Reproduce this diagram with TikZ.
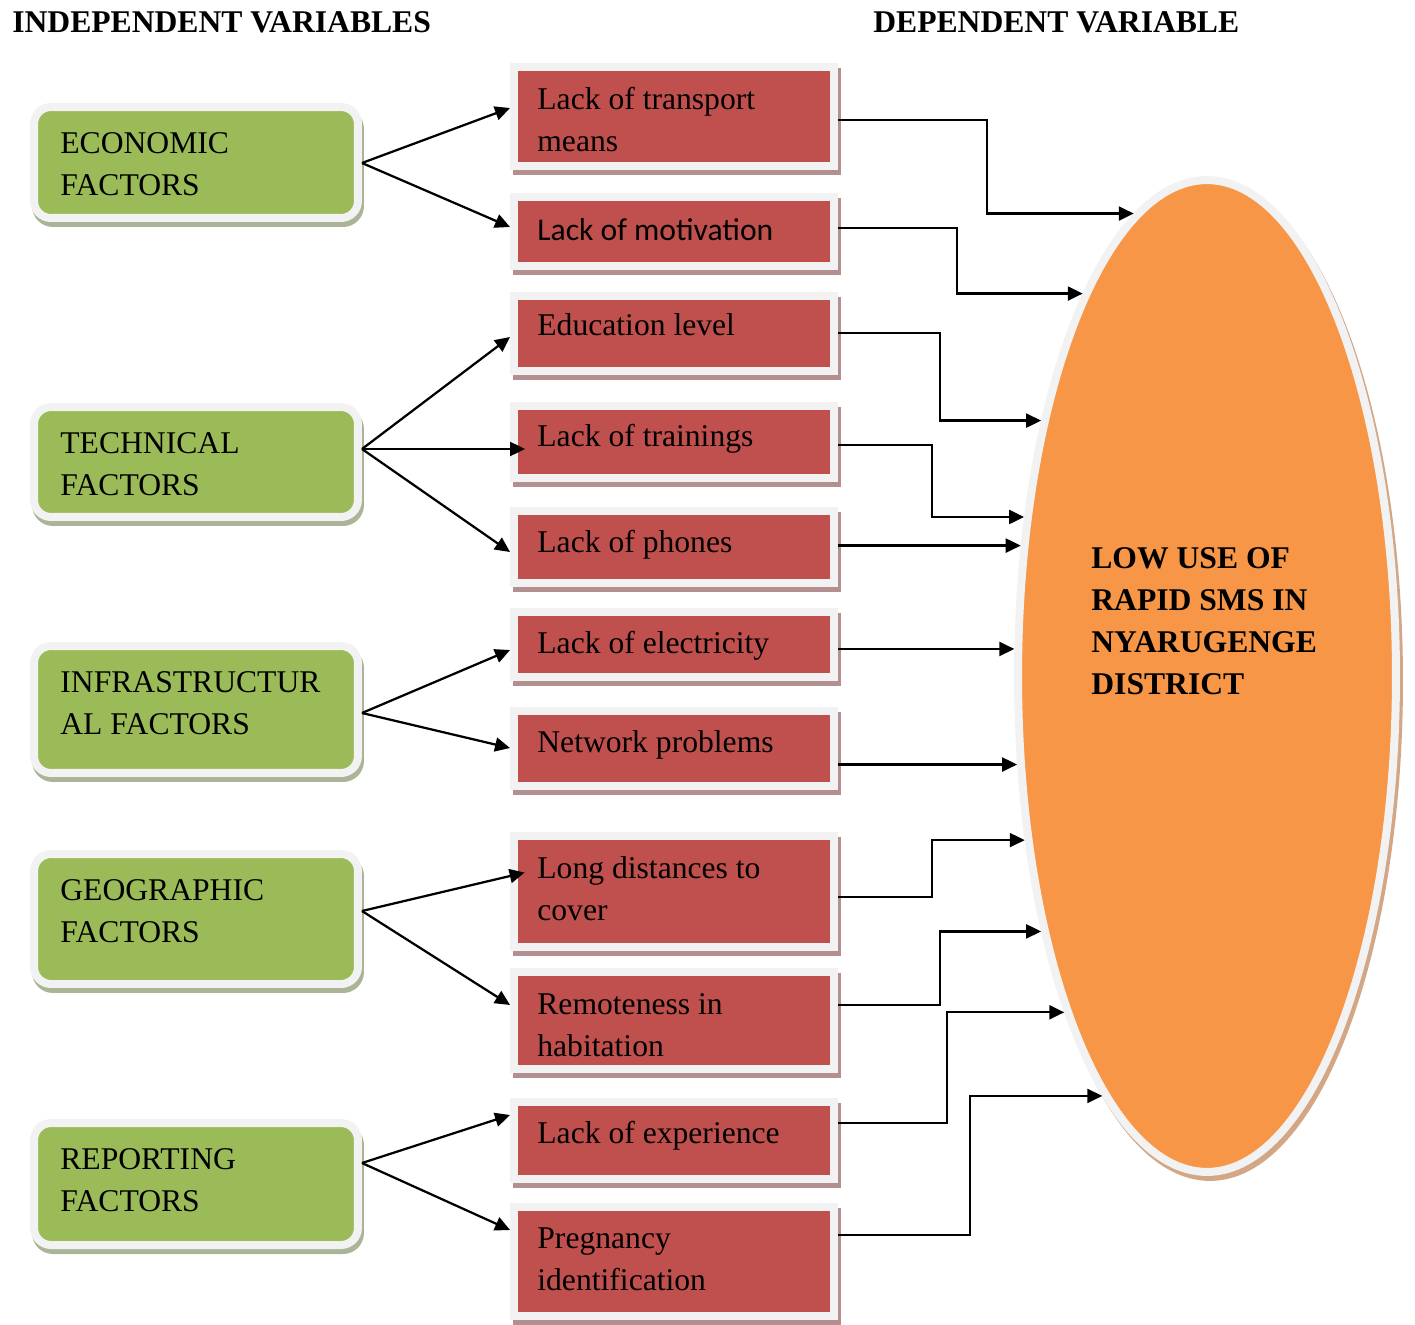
\documentclass[tikz,border=0pt]{standalone}
\usepackage{fontspec}
\setmainfont{Liberation Serif}
\newfontfamily\calibrifont{Carlito}
\usetikzlibrary{shapes.geometric,shadows,arrows.meta}
\definecolor{factgreen}{HTML}{9BBB59}
\definecolor{greenshade}{HTML}{A9B596}
\definecolor{causered}{HTML}{C0504D}
\definecolor{redshade}{HTML}{B48F8F}
\definecolor{goalorange}{HTML}{F79646}
\definecolor{goalshade}{HTML}{D3A786}
\definecolor{rim}{HTML}{F2F2F2}

\begin{document}
\begin{tikzpicture}[x=0.02cm,y=-0.02cm,
	every node/.style={font=\fontsize{18}{23.8}\selectfont},
	factor/.style={draw=rim,line width=0.16cm,fill=factgreen,rounded corners=0.34cm,
		minimum width=6.48cm,inner sep=0,
		drop shadow={shadow xshift=0.04cm,shadow yshift=-0.1cm,fill=greenshade,draw=greenshade,line width=0.16cm,opacity=1}},
	cause/.style={draw=rim,line width=0.16cm,fill=causered,minimum width=6.4cm,inner sep=0,
		drop shadow={shadow xshift=0.06cm,shadow yshift=-0.1cm,fill=redshade,draw=redshade,line width=0.16cm,opacity=1}},
	boxtext/.style={anchor=base west,align=left,inner sep=0},
	boldtext/.style={boxtext,font=\fontsize{18}{23.8}\selectfont\bfseries},
	link/.style={line width=0.045cm,-{Triangle[length=0.3cm,width=0.28cm]}}]
		\useasboundingbox (0,0) rectangle (1415,1324);
		% headings
		\node[boldtext] (indep) at (12,33) {INDEPENDENT VARIABLES};
		\node[boldtext] (dep) at (873,33) {DEPENDENT VARIABLE};
		% independent variables
		\node[factor,minimum height=2.22cm] (eco) at (196,162.5) {};
		\node[factor,minimum height=2.2cm] (tech) at (196,462) {};
		\node[factor,minimum height=2.54cm] (infra) at (196,709.5) {};
		\node[factor,minimum height=2.6cm] (geo) at (196,919) {};
		\node[factor,minimum height=2.44cm] (rep) at (196,1184) {};
		% (base of a two-line text is its last line)
		\node[boxtext] (ecotext) at ([shift={(30,92)}]eco.north west) {ECONOMIC\\FACTORS};
		\node[boxtext] (techtext) at ([shift={(30,92)}]tech.north west) {TECHNICAL\\FACTORS};
		\node[boxtext] (infratext) at ([shift={(30,92)}]infra.north west) {INFRASTRUCTUR\\AL FACTORS};
		\node[boxtext] (geotext) at ([shift={(30,92)}]geo.north west) {GEOGRAPHIC\\FACTORS};
		\node[boxtext] (reptext) at ([shift={(30,92)}]rep.north west) {REPORTING\\FACTORS};
		% causes
		\node[cause,minimum height=1.98cm] (trans) at (674,116.5) {};
		\node[cause,minimum height=1.38cm] (motiv) at (674,231.5) {};
		\node[cause,minimum height=1.5cm] (edu) at (674,333.5) {};
		\node[cause,minimum height=1.44cm] (train) at (674,442) {};
		\node[cause,minimum height=1.44cm] (phone) at (674,547) {};
		\node[cause,minimum height=1.3cm] (elec) at (674,644.5) {};
		\node[cause,minimum height=1.5cm] (net) at (674,748.5) {};
		\node[cause,minimum height=2.22cm] (dist) at (674,891.5) {};
		\node[cause,minimum height=1.94cm] (remote) at (674,1020.5) {};
		\node[cause,minimum height=1.54cm] (exper) at (674,1140.5) {};
		\node[cause,minimum height=2.18cm] (preg) at (674,1261.5) {};
		\node[boxtext] (transtext) at ([shift={(27,88)}]trans.north west) {Lack of transport\\means};
		\node[boxtext] (motivtext) at ([shift={(27,47)}]motiv.north west) {\calibrifont Lack of motivation};
		\node[boxtext] (edutext) at ([shift={(27,43)}]edu.north west) {Education level};
		\node[boxtext] (traintext) at ([shift={(27,44)}]train.north west) {Lack of trainings};
		\node[boxtext] (phonetext) at ([shift={(27,45)}]phone.north west) {Lack of phones};
		\node[boxtext] (electext) at ([shift={(27,45)}]elec.north west) {Lack of electricity};
		\node[boxtext] (nettext) at ([shift={(27,45)}]net.north west) {Network problems};
		\node[boxtext] (disttext) at ([shift={(27,88)}]dist.north west) {Long distances to\\cover};
		\node[boxtext] (remotetext) at ([shift={(27,88)}]remote.north west) {Remoteness in\\habitation};
		\node[boxtext] (expertext) at ([shift={(27,45)}]exper.north west) {Lack of experience};
		\node[boxtext] (pregtext) at ([shift={(27,87)}]preg.north west) {Pregnancy\\identification};
		% dependent variable
		\node[ellipse,draw=rim,line width=0.16cm,fill=goalorange,minimum width=7.56cm,minimum height=19.84cm,inner sep=0,
			drop shadow={shadow xshift=0.06cm,shadow yshift=-0.1cm,fill=goalshade,draw=goalshade,line width=0.16cm,opacity=1}] (goal) at (1207,676) {};
		\node[boldtext] (goaltext) at (1091,694) {LOW USE OF\\RAPID SMS IN\\NYARUGENGE\\DISTRICT};
		% factors to causes
		\draw[link] (eco.east |- 0,163) -- (trans.west |- 0,108);
		\draw[link] (eco.east |- 0,163) -- (motiv.west |- 0,227);
		\draw[link] (tech.east |- 0,449) -- (edu.west |- 0,337);
		\draw[link,shorten >=-0.3cm] (tech.east |- 0,449) -- (train.west |- 0,449);
		\draw[link] (tech.east |- 0,449) -- (phone.west |- 0,552);
		\draw[link] (infra.east |- 0,713) -- (elec.west |- 0,650);
		\draw[link] (infra.east |- 0,713) -- (net.west |- 0,748);
		\draw[link,shorten >=-0.3cm] (geo.east |- 0,911) -- (dist.west |- 0,876);
		\draw[link] (geo.east |- 0,911) -- (remote.west |- 0,1005);
		\draw[link] (rep.east |- 0,1163) -- (exper.west |- 0,1115);
		\draw[link] (rep.east |- 0,1163) -- (preg.west |- 0,1230);
		% causes to dependent variable
		\draw[link] (trans.east |- 0,120) -- ++(149,0) |- (goal.99.6);
		\draw[link] (motiv.east |- 0,228) -- ++(119,0) |- (goal.108.5);
		\draw[link] (edu.east |- 0,333) -- ++(102,0) |- (goal.123.7);
		\draw[link] (train.east |- 0,445) -- ++(94,0) |- (goal.139);
		\draw[link] (phone.east |- goal.145.8) -- (goal.145.8);
		\draw[link] (elec.east |- goal.172.9) -- (goal.172.9);
		\draw[link] (net.east |- goal.205.1) -- (goal.205.1);
		\draw[link] (dist.east |- 0,897) -- ++(94,0) |- (goal.222.4);
		\draw[link] (remote.east |- 0,1005) -- ++(102,0) |- (goal.237.1);
		\draw[link] (exper.east |- 0,1123) -- ++(109,0) |- (goal.247.5);
		\draw[link] (preg.east |- 0,1235) -- ++(132,0) |- (goal.256.7);
	\end{tikzpicture}
\end{document}
